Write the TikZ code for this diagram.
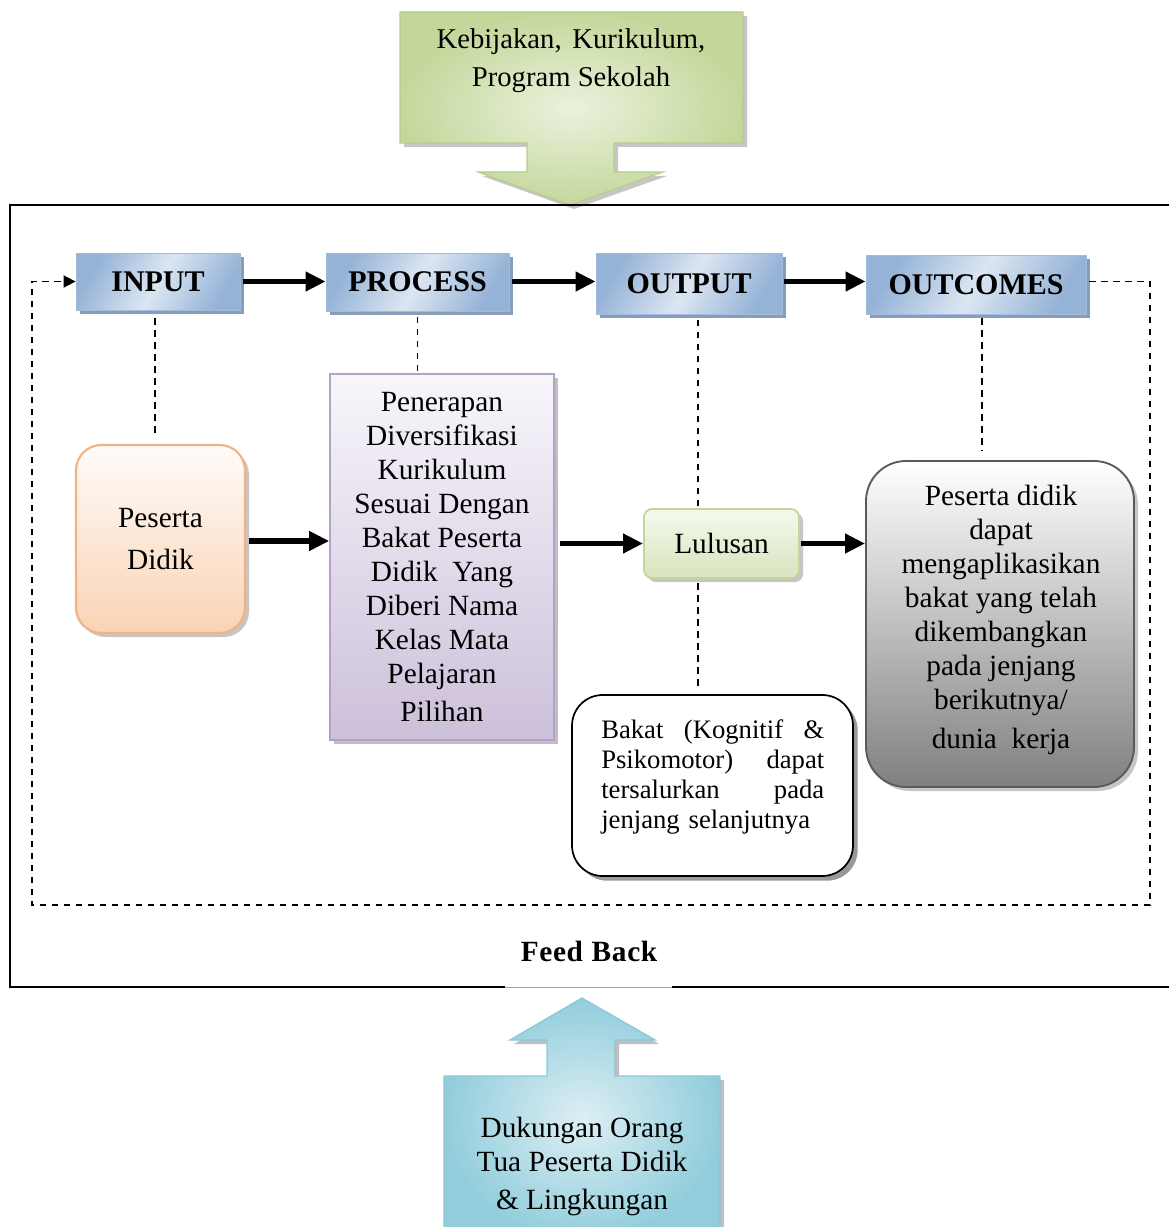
\documentclass[tikz,border=0pt]{standalone}
\usepackage{fontspec}
\setmainfont{Liberation Serif}
\usetikzlibrary{shadows,arrows.meta,calc}
\definecolor{hdrEdge}{HTML}{95B3D7}
\definecolor{hdrMid}{HTML}{DCE6F2}
\definecolor{hdrShadow}{HTML}{8A9DB8}
\definecolor{orEdge}{HTML}{F4B183}
\definecolor{orBot}{HTML}{FAD3B4}
\definecolor{orTop}{HTML}{FFFCFA}
\definecolor{puEdge}{HTML}{B3A2C7}
\definecolor{puBot}{HTML}{CCC0DA}
\definecolor{puTop}{HTML}{F8F6FB}
\definecolor{grEdge}{HTML}{C3D69B}
\definecolor{grBot}{HTML}{D7E4BD}
\definecolor{grTop}{HTML}{F5F9EE}
\definecolor{gyEdge}{HTML}{5A5A5A}
\definecolor{gyBot}{HTML}{808080}
\definecolor{tgEdge}{HTML}{C4D79B}
\definecolor{tgMid}{HTML}{EAF2DD}
\definecolor{tgLine}{HTML}{B7CD8A}
\definecolor{blEdge}{HTML}{92CDDC}
\definecolor{blMid}{HTML}{DDEFF4}
\definecolor{blLine}{HTML}{8CC8D8}
\newcommand\fsz{\fontsize{22}{25.5}\selectfont}
\begin{document}
\begin{tikzpicture}[x=0.75pt,y=-0.75pt,
  shad/.style={drop shadow={shadow xshift=3pt,shadow yshift=-3pt,fill=#1,opacity=1}},
  hdr/.style={rectangle, inner sep=0pt, font=\bfseries\fontsize{22.5}{26}\selectfont,
    left color=hdrEdge, right color=hdrEdge, middle color=hdrMid, shading angle=60,
    draw=hdrEdge!90, line width=0.6pt, shad=hdrShadow},
  bigarrow/.style={line width=3.8pt, -{Triangle[length=15pt,width=14pt]}},
  fbdash/.style={line width=1.4pt, dash pattern=on 5pt off 4pt},
  vdash/.style={line width=1.4pt, dash pattern=on 5pt off 4pt},
  body/.style={font=\fsz, align=center},
]
\useasboundingbox (0,0) rectangle (1169,1227);

% ---------- top green arrow ----------
\fill[gray!45] (404,16) -- (747,16) -- (747,147) -- (618,147) -- (618,176) -- (667,176) -- (574,209) -- (482,176) -- (531,176) -- (531,147) -- (404,147) -- cycle;
\path[draw=tgLine, line width=0.8pt, inner color=tgMid, outer color=tgEdge]
  (400,12) -- (743,12) -- (743,143) -- (614,143) -- (614,172) -- (663,172) -- (570,205) -- (478,172) -- (527,172) -- (527,143) -- (400,143) -- cycle;
\node[body, font=\fontsize{21.5}{28.5}\selectfont] (tt) at (571,61) {Kebijakan,\hspace{8pt}Kurikulum,\\ Program Sekolah};

% ---------- frame ----------
\draw[line width=1.2pt] (1175,205) -- (10,205) -- (10,987) -- (505,987);
\draw[line width=0.6pt, gray!70] (505,987) -- (672,987);
\draw[line width=1.2pt] (672,987) -- (1175,987);

% ---------- header boxes ----------
\node[hdr, minimum width=164*0.75pt, minimum height=57*0.75pt] (inp) at (158,281.5) {INPUT};
\node[hdr, minimum width=183*0.75pt, minimum height=58*0.75pt] (proc) at (417.5,282) {PROCESS};
\node[hdr, minimum width=186*0.75pt, minimum height=61*0.75pt] (outp) at (689,283.5) {OUTPUT};
\node[hdr, minimum width=220*0.75pt, minimum height=59*0.75pt] (outc) at (976,284.5) {OUTCOMES};

\draw[bigarrow, shorten <=2pt] (inp.east) -- (inp.east -| proc.west);
\draw[bigarrow, shorten <=2pt] (inp.east -| proc.east) -- (inp.east -| outp.west);
\draw[bigarrow, shorten <=1pt] (inp.east -| outp.east) -- (inp.east -| outc.west);

% ---------- body boxes ----------
\node[rectangle, rounded corners=19pt, minimum width=169*0.75pt, minimum height=188*0.75pt,
  draw=orEdge, line width=1.6pt, top color=orTop, bottom color=orBot, shad=gray!45,
  body, font=\fontsize{22}{31}\selectfont] (pd) at (160.5,539) {Peserta\\ Didik};

\node[rectangle, minimum width=224*0.75pt, minimum height=366*0.75pt,
  draw=puEdge, line width=1.2pt, top color=puTop, bottom color=puBot, shad=gray!50, body] (pr) at (442,557)
  {Penerapan\\ Diversifikasi\\ Kurikulum\\ Sesuai Dengan\\ Bakat Peserta\\ Didik\ \ Yang\\ Diberi Nama\\ Kelas Mata\\ Pelajaran\\[3pt] Pilihan};

\node[rectangle, rounded corners=6pt, minimum width=155*0.75pt, minimum height=69*0.75pt,
  draw=grEdge, line width=1.4pt, top color=grTop, bottom color=grBot, shad=gray!45, body] (lul) at (721.5,543.5) {Lulusan};

\node[rectangle, rounded corners=30pt, minimum width=268*0.75pt, minimum height=326*0.75pt,
  draw=gyEdge, line width=1.4pt, top color=white, bottom color=gyBot, shad=gray!45] (oc) at (1000,624) {};
\node[body] (oct) at (1001,620) {Peserta didik\\ dapat\\ mengaplikasikan\\ bakat yang telah\\ dikembangkan\\ pada jenjang\\ berikutnya/\\[4pt] dunia\ \ kerja};

\node[rectangle, rounded corners=23pt, minimum width=281*0.75pt, minimum height=181*0.75pt,
  draw=black, line width=1.3pt, fill=white, drop shadow={shadow xshift=3.5pt,shadow yshift=-3.5pt,fill=gray!80,opacity=1}] (bk) at (712.5,785.5) {};
\node[anchor=north west, inner sep=0pt, text width=223*0.75pt, align=left,
  font=\fontsize{20}{22.5}\selectfont] (bkt) at (601,719)
  {Bakat \hfill (Kognitif \hfill \&\\ Psikomotor) \hfill dapat\\ tersalurkan \hfill pada\\ jenjang selanjutnya};

\draw[bigarrow, shorten <=2pt] (pd.east |- pr.west) ++(0,-16) coordinate (a1) -- (a1 -| pr.west);
\draw[bigarrow] ([xshift=4pt]lul.west -| pr.east) -- (lul.west);
\draw[bigarrow, shorten <=1pt] (lul.east) -- (lul.east -| oc.west);

% ---------- dashed verticals ----------
\draw[vdash, shorten <=6pt, shorten >=6pt] ([xshift=-2pt]inp.south) -- ([xshift=-2pt]inp.south |- pd.north);
\draw[vdash, shorten <=4pt, shorten >=1pt] (proc.south) -- (proc.south |- pr.north);
\draw[vdash, shorten <=4pt, shorten >=1pt] ([xshift=6.5pt]outp.south) -- ([xshift=6.5pt]outp.south |- lul.north);
\draw[vdash, shorten <=3pt, shorten >=4pt] ([xshift=6.5pt]outp.south |- lul.south) -- ([xshift=6.5pt]outp.south |- bk.north);
\draw[vdash, shorten <=3pt, shorten >=7pt] ([xshift=4.5pt]outc.south) -- ([xshift=4.5pt]outc.south |- oc.north);

% ---------- feedback loop ----------
\coordinate (fr) at (1150,905);
\coordinate (fl) at (32,905);
\draw[fbdash, -{Triangle[length=9pt,width=9pt]}, shorten <=2pt] (outc.east |- inp.west) -| (fr) -- (fl) |- (inp.west);
\node[font=\bfseries\fsz] (fb) at (589,951) {F\kern0.5pt e\kern0.5pt e\kern0.5pt d\kern1pt\ B\kern0.5pt a\kern0.5pt c\kern0.5pt k};

% ---------- bottom blue arrow ----------
\fill[gray!50] (448,1080) -- (551,1080) -- (551,1044) -- (514,1044) -- (586,1002) -- (659,1044) -- (619,1044) -- (619,1080) -- (724,1080) -- (724,1240) -- (448,1240) -- cycle;
\path[draw=blLine, line width=1pt, inner color=blMid, outer color=blEdge]
  (444,1076) -- (547,1076) -- (547,1040) -- (510,1040) -- (582,998) -- (655,1040) -- (615,1040) -- (615,1076) -- (720,1076) -- (720,1240) -- (444,1240) -- cycle;
\node[body, font=\fontsize{22}{26}\selectfont] (bt) at (582,1166) {Dukungan Orang\\ Tua Peserta Didik\\[2pt] \& Lingkungan};
\end{tikzpicture}
\end{document}
